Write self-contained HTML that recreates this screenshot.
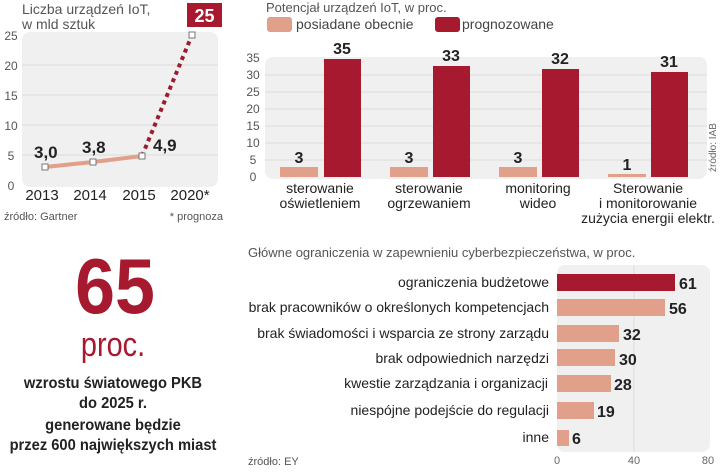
<!DOCTYPE html>
<html><head><meta charset="utf-8"><style>
body{margin:0;width:720px;height:469px;background:#fff;overflow:hidden;font-family:"Liberation Sans",sans-serif}
</style></head><body>
<svg width="720" height="469" xmlns="http://www.w3.org/2000/svg" font-family="Liberation Sans, sans-serif">
<!-- Left line chart -->
<text x="22" y="14" font-size="14" fill="#555">Liczba urządzeń IoT,</text>
<text x="22" y="29" font-size="14" fill="#555">w mld sztuk</text>
<rect x="22" y="32" width="196" height="155" rx="8" fill="#f0f0f0"/>
<g stroke="#ddd" stroke-width="1">
<line x1="22" y1="65" x2="218" y2="65"/><line x1="22" y1="95" x2="218" y2="95"/><line x1="22" y1="125" x2="218" y2="125"/><line x1="22" y1="155" x2="218" y2="155"/>
</g>
<g font-size="12" fill="#555" text-anchor="middle">
<text x="11" y="40">25</text><text x="11" y="70">20</text><text x="11" y="100">15</text><text x="11" y="130">10</text><text x="11" y="160">5</text><text x="11" y="190">0</text>
</g>
<polyline points="45,167 93,162 142,156" fill="none" stroke="#e0a08a" stroke-width="4"/>
<line x1="142" y1="156" x2="192" y2="35" stroke="#9b1c2e" stroke-width="4" stroke-dasharray="4,4"/>
<g fill="#fff" stroke="#777" stroke-width="1"><rect x="42" y="164" width="6" height="6"/><rect x="90" y="159" width="6" height="6"/><rect x="139" y="153" width="6" height="6"/><rect x="189" y="32" width="6" height="6"/></g>
<g font-size="17" font-weight="bold" fill="#222"><text x="34" y="158">3,0</text><text x="82" y="153">3,8</text><text x="153" y="151">4,9</text></g>
<rect x="187" y="3" width="35" height="24" fill="#a6192e"/><text x="204.5" y="22" font-size="18" font-weight="bold" fill="#fff" text-anchor="middle">25</text>
<g font-size="15" fill="#222" text-anchor="middle"><text x="42" y="200">2013</text><text x="90" y="200">2014</text><text x="139" y="200">2015</text><text x="190" y="200">2020*</text></g>
<text x="4" y="220" font-size="11" fill="#555">źródło: Gartner</text>
<text x="223" y="220" font-size="11" fill="#555" text-anchor="end">* prognoza</text>

<!-- Middle bar chart -->
<text x="266" y="12" font-size="13" fill="#555">Potencjał urządzeń IoT, w proc.</text>
<rect x="267" y="17" width="25" height="15" rx="3" fill="#e0a08a"/><text x="296" y="29" font-size="14" fill="#444">posiadane obecnie</text>
<rect x="435" y="17" width="25" height="15" rx="3" fill="#a6192e"/><text x="462" y="29" font-size="14" fill="#444">prognozowane</text>
<rect x="265" y="57" width="442" height="122" rx="8" fill="#f0f0f0"/>
<g stroke="#ddd"><line x1="265" y1="75" x2="707" y2="75"/><line x1="265" y1="92" x2="707" y2="92"/><line x1="265" y1="109" x2="707" y2="109"/><line x1="265" y1="126" x2="707" y2="126"/><line x1="265" y1="143" x2="707" y2="143"/><line x1="265" y1="160" x2="707" y2="160"/></g>
<g font-size="12" fill="#555" text-anchor="middle">
<text x="253" y="62">35</text><text x="253" y="79">30</text><text x="253" y="96">25</text><text x="253" y="113">20</text><text x="253" y="130">15</text><text x="253" y="147">10</text><text x="253" y="164">5</text><text x="253" y="181">0</text>
</g>
<g fill="#e0a08a"><rect x="280" y="167" width="38" height="10"/><rect x="390" y="167" width="38" height="10"/><rect x="499" y="167" width="38" height="10"/><rect x="608" y="174" width="38" height="3"/></g>
<g fill="#a6192e"><rect x="324" y="59" width="37" height="118"/><rect x="433" y="66" width="37" height="111"/><rect x="542" y="69" width="37" height="108"/><rect x="651" y="72" width="37" height="105"/></g>
<g font-size="16" font-weight="bold" fill="#222" text-anchor="middle">
<text x="299" y="163">3</text><text x="342" y="54">35</text><text x="409" y="163">3</text><text x="451" y="61">33</text><text x="518" y="163">3</text><text x="560" y="64">32</text><text x="627" y="170">1</text><text x="669" y="67">31</text>
</g>
<g font-size="14" fill="#222" text-anchor="middle">
<text x="320" y="193">sterowanie</text><text x="320" y="208">oświetleniem</text>
<text x="429" y="193">sterowanie</text><text x="429" y="208">ogrzewaniem</text>
<text x="538" y="193">monitoring</text><text x="538" y="208">wideo</text>
<text x="648" y="193">Sterowanie</text><text x="648" y="208">i monitorowanie</text><text x="648" y="223">zużycia energii elektr.</text>
</g>
<text transform="translate(716,172) rotate(-90)" font-size="10" fill="#666">źródło: IAB</text>

<!-- Bottom left -->
<text x="115" y="313" font-size="78" font-weight="bold" fill="#a6192e" text-anchor="middle" transform="translate(115,0) scale(0.92,1) translate(-115,0)">65</text>
<text x="113" y="356" font-size="34" fill="#a6192e" text-anchor="middle" transform="translate(113,0) scale(0.85,1) translate(-113,0)">proc.</text>
<g font-size="16" font-weight="bold" fill="#222" text-anchor="middle" transform="translate(113,0) scale(0.92,1) translate(-113,0)">
<text x="113" y="388">wzrostu światowego PKB</text>
<text x="113" y="408">do 2025 r.</text>
<text x="113" y="430">generowane będzie</text>
<text x="113" y="450">przez 600 największych miast</text>
</g>

<!-- Bottom right -->
<text x="248" y="257" font-size="13" fill="#555">Główne ograniczenia w zapewnieniu cyberbezpieczeństwa, w proc.</text>
<rect x="557" y="265" width="153" height="187" rx="8" fill="#f0f0f0"/>
<line x1="634" y1="265" x2="634" y2="452" stroke="#ddd"/>
<rect x="557" y="274" width="118" height="17" fill="#a6192e"/>
<g fill="#e0a08a">
<rect x="557" y="299" width="108" height="17"/><rect x="557" y="325" width="62" height="17"/><rect x="557" y="349" width="58" height="17"/><rect x="557" y="375" width="54" height="17"/><rect x="557" y="402" width="37" height="17"/><rect x="557" y="430" width="12" height="16"/>
</g>
<g font-size="14" fill="#222" text-anchor="end">
<text x="549" y="287">ograniczenia budżetowe</text>
<text x="549" y="312">brak pracowników o określonych kompetencjach</text>
<text x="549" y="338">brak świadomości i wsparcia ze strony zarządu</text>
<text x="549" y="363">brak odpowiednich narzędzi</text>
<text x="548" y="388">kwestie zarządzania i organizacji</text>
<text x="549" y="415">niespójne podejście do regulacji</text>
<text x="549" y="442">inne</text>
</g>
<g font-size="16" font-weight="bold" fill="#222">
<text x="679" y="289">61</text><text x="669" y="314">56</text><text x="623" y="340">32</text><text x="619" y="365">30</text><text x="614" y="390">28</text><text x="597" y="417">19</text><text x="572" y="444">6</text>
</g>
<g font-size="11" fill="#666" text-anchor="middle"><text x="557" y="464">0</text><text x="634" y="464">40</text><text x="708" y="464">80</text></g>
<text x="248" y="465" font-size="11" fill="#555">źródło: EY</text>
</svg>
</body></html>
